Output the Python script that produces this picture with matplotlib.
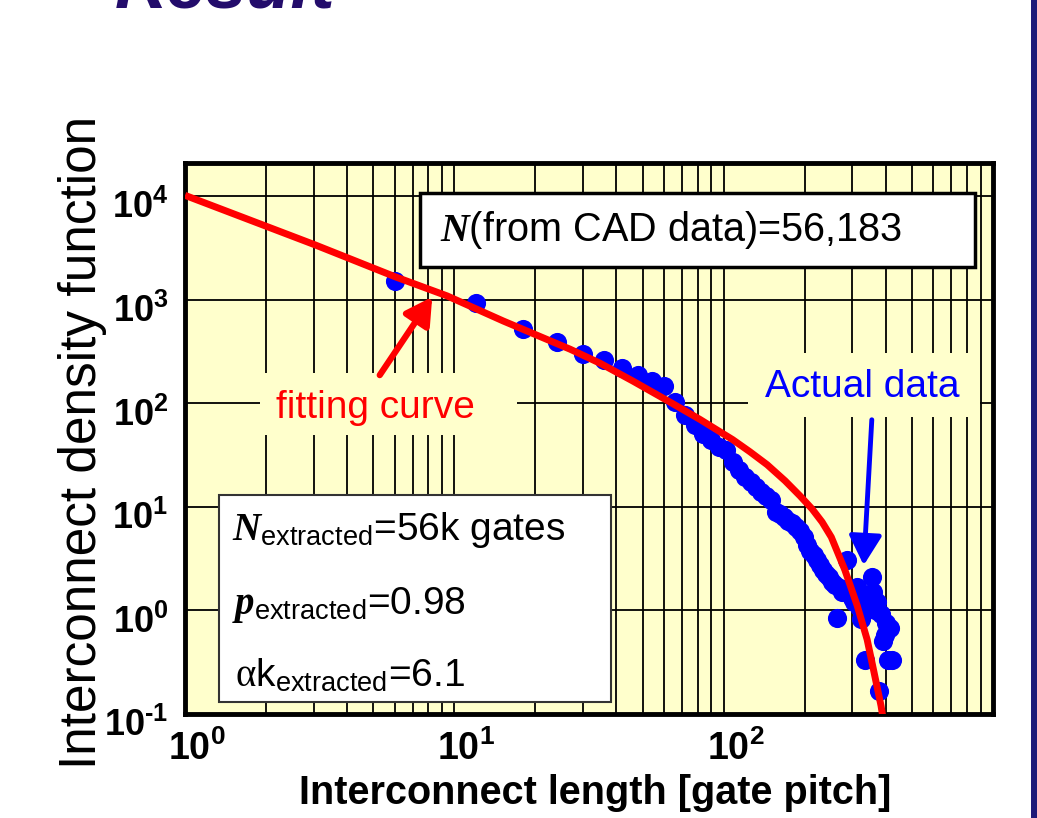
import matplotlib
matplotlib.use("Agg")
import matplotlib.pyplot as plt
from matplotlib.patches import Rectangle
from matplotlib import transforms

plt.rcParams['font.family'] = ['Liberation Sans', 'DejaVu Sans']
plt.rcParams['mathtext.fontset'] = 'custom'
plt.rcParams['mathtext.rm'] = 'Liberation Sans'
plt.rcParams['mathtext.bf'] = 'Liberation Sans:bold'
plt.rcParams['mathtext.it'] = 'Liberation Serif:bold:italic'
plt.rcParams['mathtext.sf'] = 'Liberation Serif'

# measured interconnect density function (length in gate pitches)
length = [6, 12, 18, 24, 30, 36, 42, 48, 54, 60,
          66, 72, 78, 84, 90, 96, 102, 108, 114, 120,
          126, 132, 138, 144, 150, 156, 162, 168, 174, 180,
          186, 192, 198, 204, 210, 216, 222, 228, 234, 240,
          246, 252, 258, 264, 270, 276, 282, 288, 294, 300,
          306, 312, 318, 324, 330, 336, 342, 348, 354, 360,
          366, 372, 378, 384, 390, 396, 402, 408, 414, 420]
density = [1528, 936, 522, 391, 299, 261, 219, 187, 164, 146,
           104, 78, 62.5, 51, 44.7, 38.3, 35.7, 27.3, 22.9, 19.6,
           17.5, 15.6, 14.0, 12.8, 11.7, 8.94, 8.55, 8.0, 7.31, 7.0,
           6.4, 5.85, 5.11, 4.28, 3.74, 3.42, 3.06, 2.73, 2.45, 2.24,
           2.09, 1.87, 1.75, 0.855, 1.64, 1.5, 1.56, 3.06, 1.43, 1.31,
           1.2, 1.67, 1.09, 0.82, 1.25, 0.334, 1.2, 1.34, 2.09, 1.5,
           1.02, 1.2, 0.167, 0.915, 0.51, 0.585, 0.765, 0.334, 0.684, 0.334]

# fitted distribution
fit_length = [1, 3.04, 6.03, 9.4, 15.2, 26.9, 34.8, 46.1, 61.6, 81.7,
              108, 125, 145, 169, 192, 213, 232, 251, 282, 313, 341, 362, 384, 391]
fit_density = [10230, 3400, 1672, 1093, 625, 334, 244, 164, 107, 70,
               44.7, 34.2, 25.6, 17.9, 12.8, 9.56, 7.15, 5.11, 2.45, 1.12, 0.523,
               0.25, 0.12, 0.089]

x_exp = [0, 1, 2]
y_exp = [-1, 0, 1, 2, 3, 4]

n_cad = '56,183'
n_ext = '56k gates'
p_ext = '0.98'
ak_ext = '6.1'


def pow10_label(e):
    # short hyphen for negative exponents, like the slide fonts
    s = str(e).replace('-', '\u2010')
    return r'$\mathbf{10^{%s}}$' % s


W, H = 1037, 818
fig = plt.figure(figsize=(W / 100, H / 100), dpi=100)
ax = fig.add_axes([185 / W, 1 - 714 / H, 808 / W, 551 / H])
ax.set_facecolor('#FFFFCC')
ax.set_xscale('log')
ax.set_yscale('log')
ax.set_xlim(1, 1000)
ax.set_ylim(0.1, 2.1e4)

# grid: every decade + minor lines in x, decades only in y
ax.set_axisbelow(True)
ax.grid(which='major', axis='both', color='black', lw=1.3)
ax.grid(which='minor', axis='x', color='black', lw=1.3)
ax.tick_params(which='both', length=0)
for s in ax.spines.values():
    s.set_linewidth(3.5)
    s.set_color('black')

ax.set_xticks([10.0 ** e for e in x_exp])
ax.set_xticklabels([pow10_label(e) for e in x_exp], fontsize=27)
ax.set_yticks([10.0 ** e for e in y_exp])
ax.set_yticklabels([pow10_label(e) for e in y_exp], fontsize=26)
ax.tick_params(axis='x', pad=12)
ax.tick_params(axis='y', pad=12)
xoff = transforms.ScaledTranslation(0.12, 0, fig.dpi_scale_trans)
for lab in ax.get_xticklabels():
    lab.set_transform(lab.get_transform() + xoff)
yoff = transforms.ScaledTranslation(0, -0.08, fig.dpi_scale_trans)
for lab in ax.get_yticklabels():
    lab.set_transform(lab.get_transform() + yoff)

# data and fit
ax.scatter(length, density, s=190, color='#0000FF', zorder=3, linewidths=0)
ax.plot(fit_length, fit_density, color='#FF0000', lw=5, zorder=4,
        solid_capstyle='butt', solid_joinstyle='round')

# annotation boxes
ax.add_patch(Rectangle((0.291, 0.811), 0.687, 0.135, transform=ax.transAxes,
                       facecolor='white', edgecolor='black', lw=2.5, zorder=5))
ax.text(0.316, 0.878, r'$\mathit{N}$(from CAD data)=' + n_cad, transform=ax.transAxes,
        fontsize=28.5, va='center', ha='left', zorder=6)

ax.add_patch(Rectangle((0.042, 0.022), 0.485, 0.375, transform=ax.transAxes,
                       facecolor='white', edgecolor='#333333', lw=1.5, zorder=5))
ax.text(0.058, 0.334, r'$\mathit{N}_{\mathrm{extracted}}$=' + n_ext, transform=ax.transAxes,
        fontsize=28, va='center', ha='left', zorder=6)
ax.text(0.058, 0.198, r'$\mathit{p}_{\mathrm{extracted}}$=' + p_ext, transform=ax.transAxes,
        fontsize=28, va='center', ha='left', zorder=6)
ax.text(0.062, 0.070, r'$\mathsf{α}\mathrm{k}_{\mathrm{extracted}}$=' + ak_ext,
        transform=ax.transAxes, fontsize=28, va='center', ha='left', zorder=6)

# labels for the two series, on a plain background that hides the grid
ax.add_patch(Rectangle((0.093, 0.506), 0.318, 0.113, transform=ax.transAxes,
                       facecolor='#FFFFCC', edgecolor='none', zorder=2))
ax.text(0.236, 0.555, 'fitting curve', transform=ax.transAxes, color='#FF0000',
        fontsize=28, ha='center', va='center', zorder=6)
ax.annotate('', xy=(0.306, 0.757), xytext=(0.241, 0.615),
            xycoords='axes fraction', textcoords='axes fraction',
            arrowprops=dict(arrowstyle='-|>,head_length=0.8,head_width=0.45',
                            color='#FF0000', lw=4.5, mutation_scale=20,
                            shrinkA=0, shrinkB=0), zorder=6)

ax.add_patch(Rectangle((0.697, 0.539), 0.287, 0.116, transform=ax.transAxes,
                       facecolor='#FFFFCC', edgecolor='none', zorder=2))
ax.text(0.838, 0.593, 'Actual data', transform=ax.transAxes, color='#0000FF',
        fontsize=28, ha='center', va='center', zorder=6)
ax.annotate('', xy=(0.840, 0.270), xytext=(0.850, 0.534),
            xycoords='axes fraction', textcoords='axes fraction',
            arrowprops=dict(arrowstyle='-|>,head_length=0.9,head_width=0.5',
                            color='#0000FF', lw=3.5, mutation_scale=20,
                            shrinkA=0, shrinkB=0), zorder=6)

# axis titles
fig.text(83 / W, 1 - 442 / H, 'Interconnect density function', rotation=90,
         fontsize=37, ha='center', va='center')
fig.text(595 / W, 1 - 793 / H, 'Interconnect length [gate pitch]',
         fontsize=28.5, fontweight='bold', ha='center', va='center')

# slide title and side bar
fig.text(115 / W, 1 - 8 / H, 'Result', fontsize=52, fontweight='bold',
         style='italic', color='#230C6B', va='baseline')
fig.patches.append(Rectangle((1031 / W, 0), 6 / W, 1, transform=fig.transFigure,
                             facecolor='#1E1A78', edgecolor='none'))

fig.savefig('out.png', dpi=100)
